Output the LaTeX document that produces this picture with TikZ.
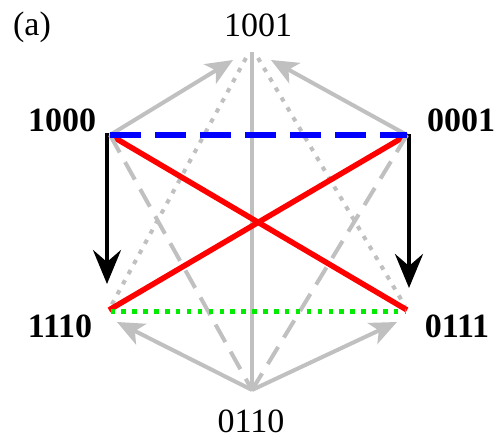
\documentclass[tikz,border=0pt]{standalone}
\usepackage{fontspec}
\setmainfont{Liberation Serif}
\usetikzlibrary{arrows.meta}
\definecolor{lgray}{RGB}{192,192,192}
\definecolor{pred}{RGB}{255,0,0}
\definecolor{pblue}{RGB}{0,0,255}
\definecolor{pgreen}{RGB}{0,235,0}
\begin{document}
\begin{tikzpicture}[x=1pt,y=-1pt,
  lbl/.style={font=\fontsize{34}{34}\selectfont, inner sep=0pt, anchor=base},
  blbl/.style={font=\fontsize{34}{34}\selectfont\bfseries, inner sep=0pt, anchor=base},
  gline/.style={draw=lgray, line width=4pt},
  garrow/.style={gline, -{Stealth[length=27pt,width=23pt,inset=7pt]}},
  gdot/.style={gline, dash pattern=on 4.5pt off 7pt},
  gdash/.style={gline, dash pattern=on 20pt off 11pt},
  blk/.style={draw=black, line width=4.5pt, -{Stealth[length=34pt,width=28pt,inset=12pt]}},
  redl/.style={draw=pred, line width=5.5pt},
  bluel/.style={draw=pblue, line width=6pt, dash pattern=on 31pt off 14pt},
  greenl/.style={draw=pgreen, line width=5pt, dash pattern=on 4.5pt off 6.4pt}
]
\useasboundingbox (0,0) rectangle (503,438);
\fill[white] (0,0) rectangle (503,438);

% vertices
\coordinate (vT) at (252,52);
\coordinate (vA) at (110,135);
\coordinate (vB) at (407,135);
\coordinate (vC) at (109,310);
\coordinate (vD) at (407,310);
\coordinate (vO) at (252,390);
% arrow tips and offsets
\coordinate (tAT) at (233,60);
\coordinate (tBT) at (271,60);
\coordinate (tOC) at (117,322);
\coordinate (tOD) at (397,322);
\coordinate (kA) at (107,133);
\coordinate (kB) at (409,134);
\coordinate (tAC) at (107,284);
\coordinate (tBD) at (409,288);
\coordinate (dTl) at (246,58);
\coordinate (dTr) at (258,58);
\coordinate (dC) at (111,306);
\coordinate (dD) at (405,306);
\coordinate (gC) at (110.5,311);
\coordinate (gD) at (406,311);

% labels
\node[lbl] (la) at (32,36) {(a)};
\node[lbl] (l1001) at (258,37) {1001};
\node[blbl] (l1000) at (62,132) {1000};
\node[blbl] (l0001) at (461,132) {0001};
\node[blbl] (l1110) at (60,337) {1110};
\node[blbl] (l0111) at (457,337) {0111};
\node[lbl] (l0110) at (251,432) {0110};

% gray solid
\draw[gline] (vT) -- (vO);
\draw[garrow] (vA) -- (tAT);
\draw[garrow] (vB) -- (tBT);
\draw[garrow] (vO) -- (tOC);
\draw[garrow] (vO) -- (tOD);
% gray dotted
\draw[gdot] (dTl) -- (dC);
\draw[gdot] (dTr) -- (dD);
% black arrows
\draw[blk] (kA) -- (tAC);
\draw[blk] (kB) -- (tBD);
% red
\draw[redl] (vA) -- (vD);
\draw[redl] (vB) -- (vC);
% gray dashed
\draw[gdash] (vA) -- (vO);
\draw[gdash] (vB) -- (vO);
% blue and green
\draw[bluel] (vA) -- (vB);
\draw[greenl] (gC) -- (gD);
\end{tikzpicture}
\end{document}
